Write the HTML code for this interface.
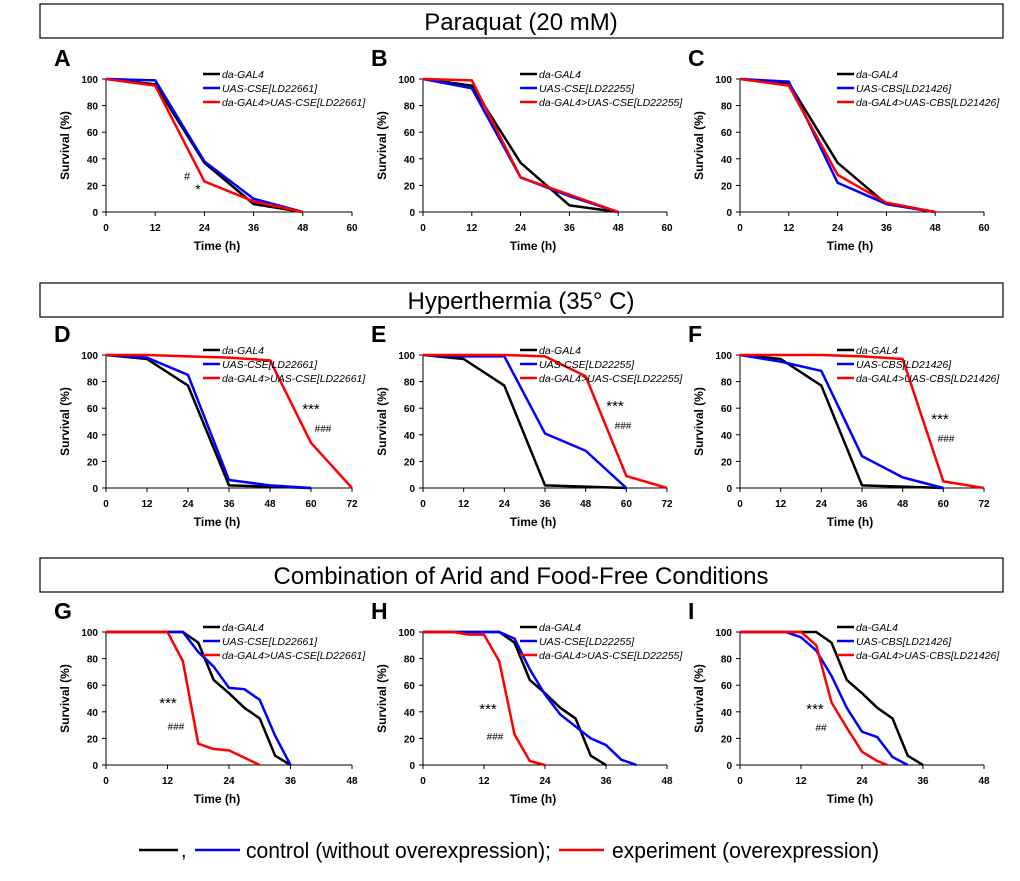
<!DOCTYPE html>
<html><head><meta charset="utf-8"><style>
body{margin:0;background:#fff;}
svg text{font-family:"Liberation Sans",sans-serif;}
</style></head><body>
<svg id="fig" width="1020" height="876" viewBox="0 0 1020 876" xmlns="http://www.w3.org/2000/svg">
<rect x="40" y="4" width="963" height="34" fill="#fff" stroke="#000" stroke-width="1.2"/>
<text x="521" y="30" font-size="24" text-anchor="middle">Paraquat (20 mM)</text>
<rect x="40" y="283" width="963" height="34" fill="#fff" stroke="#000" stroke-width="1.2"/>
<text x="521" y="309" font-size="24" text-anchor="middle">Hyperthermia (35° C)</text>
<rect x="40" y="558" width="963" height="34" fill="#fff" stroke="#000" stroke-width="1.2"/>
<text x="521" y="584" font-size="24" text-anchor="middle">Combination of Arid and Food-Free Conditions</text>
<g>
<line x1="139" y1="850" x2="178" y2="850" stroke="#000" stroke-width="2.5"/>
<text x="181" y="857" font-size="20">,</text>
<line x1="195" y1="850" x2="240" y2="850" stroke="#00f" stroke-width="2.5"/>
<text x="246" y="858" font-size="22" textLength="305" lengthAdjust="spacingAndGlyphs">control (without overexpression);</text>
<line x1="559" y1="850" x2="604" y2="850" stroke="#f00" stroke-width="2.5"/>
<text x="612" y="858" font-size="22" textLength="267" lengthAdjust="spacingAndGlyphs">experiment (overexpression)</text>
</g>
</svg>
<script>
const xA=[0,12,24,36,48];
const aBlack=[100,96,37,6,0], aBlue=[100,99,38,10,0], aRed=[100,95,23,8,0];
const bBlack=[100,95,37,5,0], bBlue=[100,93,26,12,0], bRed=[100,99,26,13,0];
const cBlack=[100,97,37,6,0], cBlue=[100,98,22,6,0], cRed=[100,95,28,7,0];
const xD=[0,12,24,36,48,60,72];
const dBlack=[100,97,77,2,1,0], dBlue=[100,98,85,6,2,0], dRed=[100,100,99,98,96,34,0];
const eBlack=[100,97,77,2,1,0], eBlue=[100,99,99,41,28,0], eRed=[100,100,100,99,84,9,0];
const fBlack=[100,97,77,2,1,0], fBlue=[100,95,88,24,8,0], fRed=[100,100,100,99,97,5,0];
const xCtl=[0,15,18,21,24,27,30,33,36];
const gBlack=[100,100,92,64,54,43,35,7,0];
const gBlueX=[0,15,18,21,24,27,30,33,36], gBlue=[100,100,85,74,58,57,49,22,0];
const gRedX=[0,12,15,18,21,24,30], gRed=[100,100,78,16,12,11,0];
const hBlack=[100,100,92,64,54,43,35,7,0];
const hBlueX=[0,15,18,21,24,27,30,33,36,39,42], hBlue=[100,100,95,72,53,38,29,20,15,4,0];
const hRedX=[0,6,9,12,15,18,21,24], hRed=[100,100,98,98,78,23,3,0];
const iBlack=[100,100,92,64,54,43,35,7,0];
const iBlueX=[0,9,12,15,18,21,24,27,30,33], iBlue=[100,100,96,86,67,43,25,21,6,0];
const iRedX=[0,12,15,18,21,24,27,29], iRed=[100,100,90,47,28,10,3,0];
const yTicks=[0,20,40,60,80,100];
const ticks60=[0,12,24,36,48,60], ticks72=[0,12,24,36,48,60,72], ticks48=[0,12,24,36,48];

const NS="http://www.w3.org/2000/svg";
const svg=document.getElementById('fig');
function mk(tag,attrs,parent){const e=document.createElementNS(NS,tag);for(const k in attrs)e.setAttribute(k,attrs[k]);(parent||svg).appendChild(e);return e;}
const cols=[[106,352],[423,667],[740,984]];
const rows=[[79,212],[355,488],[632,765]];
function panel(letter,c,r,xmax,xticks,series,legend,ann){
  const [x0,x1]=cols[c],[yt,yb]=rows[r];
  const g=mk('g',{});
  
  
  const sx=v=>x0+(x1-x0)*v/xmax, sy=v=>yb-(yb-yt)*v/100;
  const L=mk('text',{x:x0-52,y:yt-13,'font-size':23,'font-weight':'bold'},g);L.textContent=letter;
  
  
  mk('line',{x1:x0,y1:yt,x2:x0,y2:yb,stroke:'#000','stroke-width':1},g);
  mk('line',{x1:x0,y1:yb,x2:x1,y2:yb,stroke:'#000','stroke-width':1},g);
  yTicks.forEach(t=>{mk('line',{x1:x0-4,y1:sy(t),x2:x0,y2:sy(t),stroke:'#000'},g);
    const tx=mk('text',{x:x0-8,y:sy(t)+4,'font-size':10,'font-weight':'bold','text-anchor':'end'},g);tx.textContent=t;});
  xticks.forEach(t=>{mk('line',{x1:sx(t),y1:yb,x2:sx(t),y2:yb+4,stroke:'#000'},g);
    const tx=mk('text',{x:sx(t),y:yb+19,'font-size':10,'font-weight':'bold','text-anchor':'middle'},g);tx.textContent=t;});
  const xl=mk('text',{x:(x0+x1)/2-12,y:yb+38,'font-size':12,'font-weight':'bold','text-anchor':'middle'},g);xl.textContent='Time (h)';
  
  
  const yl=mk('text',{x:0,y:0,'font-size':12,'font-weight':'bold','text-anchor':'middle',transform:`translate(${x0-37},${(yt+yb)/2}) rotate(-90)`},g);yl.textContent='Survival (%)';
  
  
  series.forEach(s=>{
    const p=mk('polyline',{points:s.x.map((xv,i)=>sx(xv)+','+sy(s.y[i])).join(' '),fill:'none',stroke:s.c,'stroke-width':2.5,'stroke-linejoin':'round'},g);
    
    
  });
  const lx=x0+97, cs=['#000','#00f','#f00'];
  legend.forEach((t,i)=>{const ly=yt-5+i*14;
    mk('line',{x1:lx,y1:ly,x2:lx+17,y2:ly,stroke:cs[i],'stroke-width':2.5},g);
    const tx=mk('text',{x:lx+19,y:ly+4,'font-size':10.5,'font-style':'italic'},g);tx.textContent=t;
    
    });
  ann.forEach(a=>{const tx=mk('text',{x:a[0],y:a[1],'font-size':a[3]||12,'text-anchor':'middle'},g);tx.textContent=a[2];});
}
const L1=['da-GAL4','UAS-CSE[LD22661]','da-GAL4>UAS-CSE[LD22661]'];
const L2=['da-GAL4','UAS-CSE[LD22255]','da-GAL4>UAS-CSE[LD22255]'];
const L3=['da-GAL4','UAS-CBS[LD21426]','da-GAL4>UAS-CBS[LD21426]'];
const K='#000',B='#00f',R='#f00';
panel('A',0,0,60,ticks60,[{x:xA,y:aBlack,c:K},{x:xA,y:aBlue,c:B},{x:xA,y:aRed,c:R}],L1,[[187,180,'#',11],[198,194,'*',14]]);
panel('B',1,0,60,ticks60,[{x:xA,y:bBlack,c:K},{x:xA,y:bBlue,c:B},{x:xA,y:bRed,c:R}],L2,[]);
panel('C',2,0,60,ticks60,[{x:xA,y:cBlack,c:K},{x:xA,y:cBlue,c:B},{x:xA,y:cRed,c:R}],L3,[]);
panel('D',0,1,72,ticks72,[{x:xD,y:dBlack,c:K},{x:xD,y:dBlue,c:B},{x:xD,y:dRed,c:R}],L1,[[311,414,'***',15],[323,432,'###',10]]);
panel('E',1,1,72,ticks72,[{x:xD,y:eBlack,c:K},{x:xD,y:eBlue,c:B},{x:xD,y:eRed,c:R}],L2,[[615,411,'***',15],[623,429,'###',10]]);
panel('F',2,1,72,ticks72,[{x:xD,y:fBlack,c:K},{x:xD,y:fBlue,c:B},{x:xD,y:fRed,c:R}],L3,[[940,424,'***',15],[946,442,'###',10]]);
panel('G',0,2,48,ticks48,[{x:xCtl,y:gBlack,c:K},{x:gBlueX,y:gBlue,c:B},{x:gRedX,y:gRed,c:R}],L1,[[168,708,'***',15],[176,730,'###',10]]);
panel('H',1,2,48,ticks48,[{x:xCtl,y:hBlack,c:K},{x:hBlueX,y:hBlue,c:B},{x:hRedX,y:hRed,c:R}],L2,[[488,714,'***',15],[495,740,'###',10]]);
panel('I',2,2,48,ticks48,[{x:xCtl,y:iBlack,c:K},{x:iBlueX,y:iBlue,c:B},{x:iRedX,y:iRed,c:R}],L3,[[815,714,'***',15],[821,731,'##',10]]);
</script>
</body></html>
